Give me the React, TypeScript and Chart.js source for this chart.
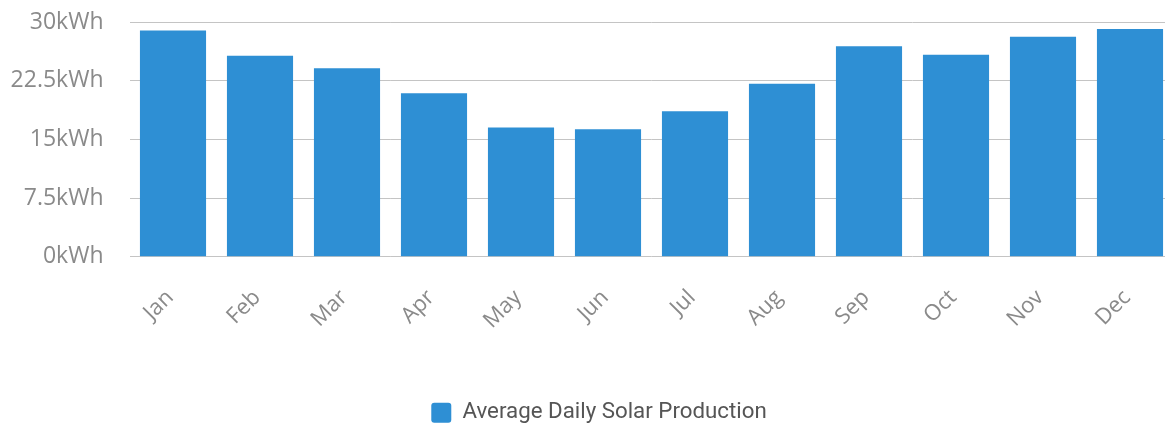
import React, { useEffect, useRef } from "react";
import { Chart, registerables } from "chart.js";

Chart.register(...registerables);

const months = ["Jan", "Feb", "Mar", "Apr", "May", "Jun", "Jul", "Aug", "Sep", "Oct", "Nov", "Dec"];
const production = [28.9, 25.7, 24.1, 20.9, 16.5, 16.3, 18.6, 22.1, 26.9, 25.8, 28.1, 29.1];
const seriesLabel = "Average Daily Solar Production";
const yTicks = [0, 7.5, 15, 22.5, 30];

const centerLegend = {
  id: "centerLegend",
  beforeDraw(chart: any) {
    const l = chart.legend;
    if (l) {
      l.left = 0;
      l.right = chart.width;
    }
  },
};

export default function App() {
  const ref = useRef<HTMLCanvasElement | null>(null);
  useEffect(() => {
    if (!ref.current) return;
    const chart = new Chart(ref.current, {
      type: "bar",
      data: {
        labels: months,
        datasets: [
          {
            label: seriesLabel,
            data: production,
            backgroundColor: "#2e8fd4",
            borderWidth: 0,
            borderRadius: 0,
            barPercentage: 0.76,
            categoryPercentage: 1,
          },
        ],
      },
      plugins: [centerLegend],
      options: {
        animation: false,
        responsive: false,
        layout: { padding: { top: 22, bottom: 0, left: 0, right: 24.5 } },
        plugins: {
          tooltip: { enabled: false },
          legend: {
            position: "bottom",
            labels: {
              boxWidth: 20,
              boxHeight: 20,
              color: "#555",
              font: { family: "Roboto", size: 22.3 },
              padding: 10,
              useBorderRadius: true,
              borderRadius: 3,
            },
          },
        },
        scales: {
          x: {
            grid: { display: false, drawTicks: false },
            border: { display: false },
            ticks: {
              color: "#8a8a8a",
              font: { family: "'Open Sans'", size: 22 },
              maxRotation: 45,
              minRotation: 45,
              padding: 28,
              labelOffset: -3,
            },
            afterFit: (s: any) => {
              s.height = 135;
              s.paddingLeft = 0;
              s.paddingRight = 0;
            },
          },
          y: {
            min: 0,
            max: 30,
            afterBuildTicks: (s: any) => {
              s.ticks = yTicks.map((v) => ({ value: v }));
            },
            grid: { color: "#c4c4c4", drawTicks: false, lineWidth: 1 },
            border: { display: false },
            ticks: {
              color: "#8a8a8a",
              font: { family: "'Open Sans'", size: 23 },
              padding: 26,
              callback: (v: any) => `${v}kWh`,
            },
            afterFit: (s: any) => {
              s.width = 129.5;
              s.paddingTop = 0;
              s.paddingBottom = 0;
            },
          },
        },
      },
    });
    return () => chart.destroy();
  }, []);
  return (
    <div style={{ position: "fixed", left: 0, top: 0, width: 1165, height: 426, overflow: "hidden", background: "#fff" }}>
      <canvas ref={ref} width={1198} height={434} style={{ display: "block", width: 1198, height: 434 }} />
    </div>
  );
}
